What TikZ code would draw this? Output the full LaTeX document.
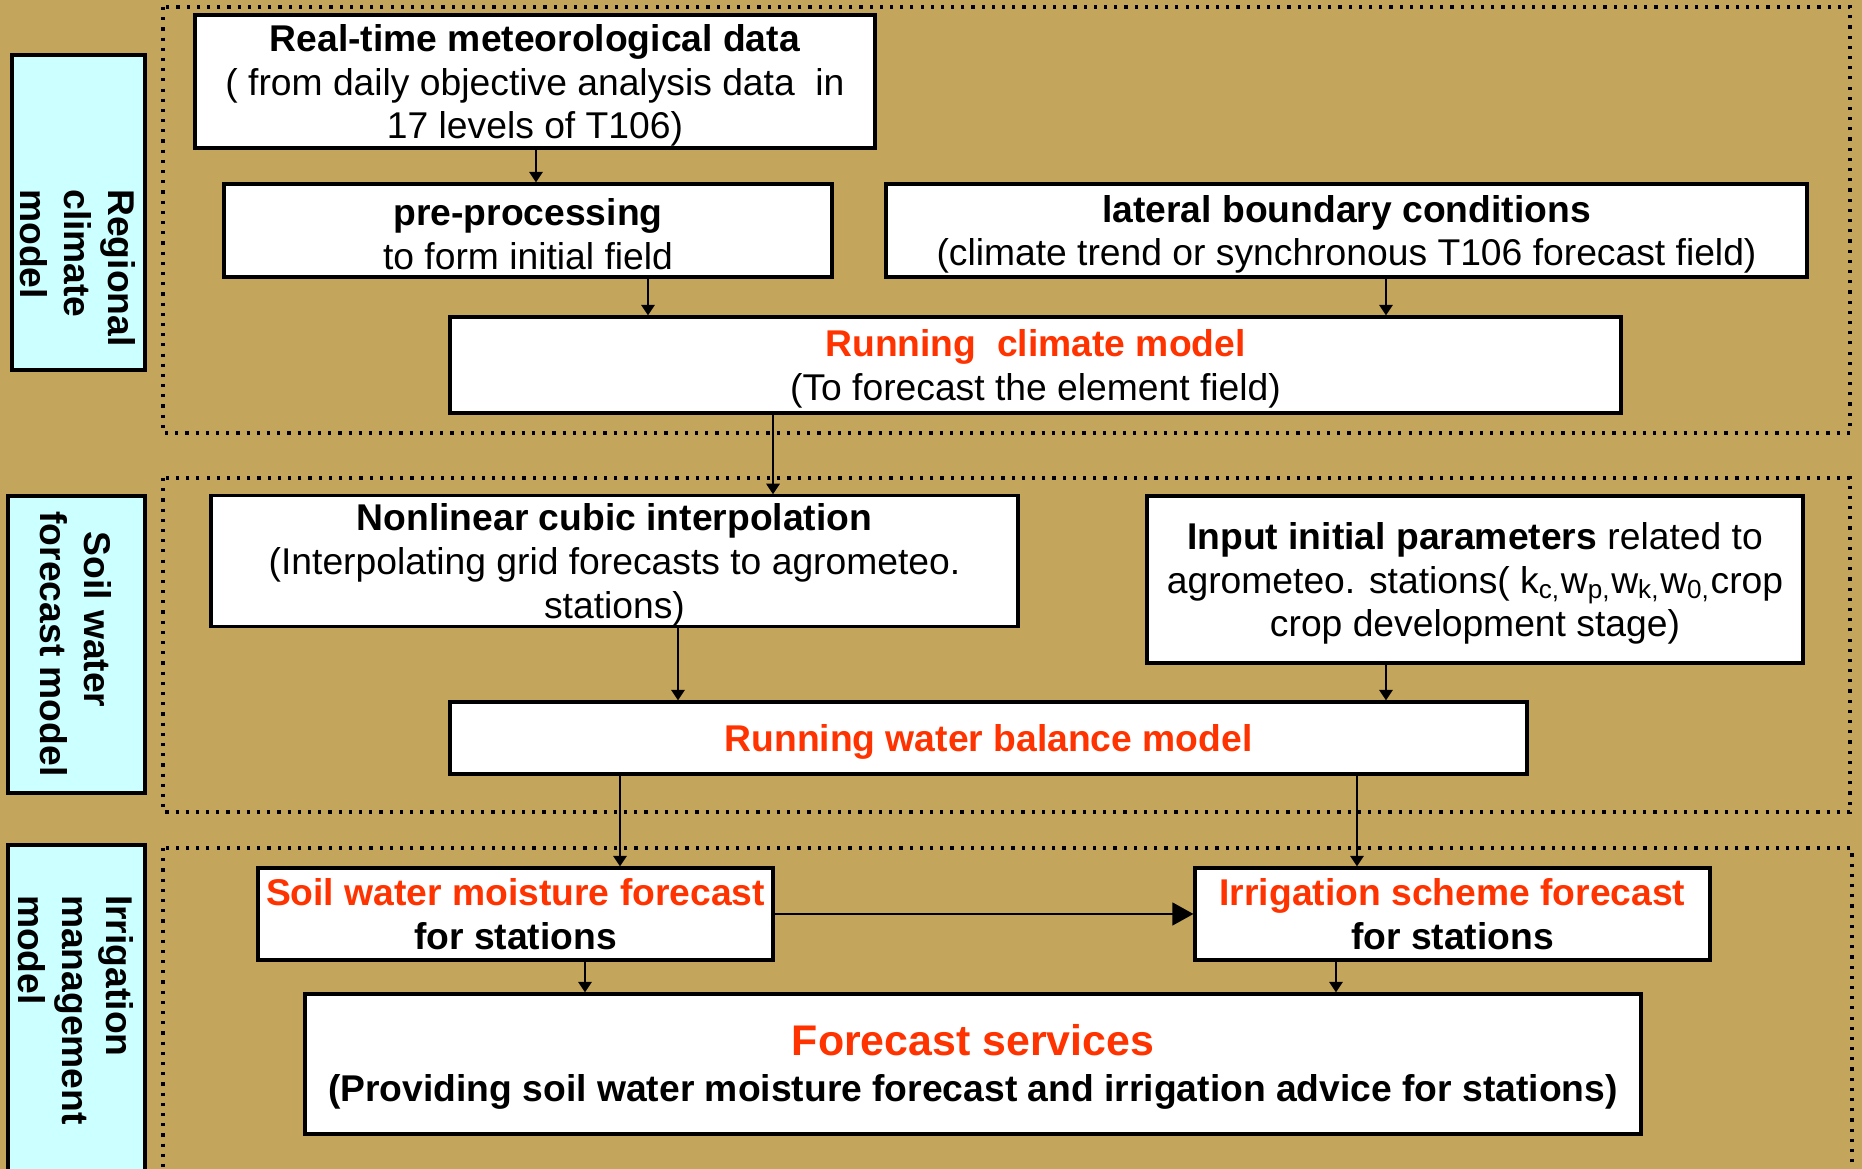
\documentclass[tikz,border=0pt]{standalone}
\usepackage{fontspec}
\setmainfont{Liberation Sans}
\usetikzlibrary{arrows.meta}
\definecolor{tanbg}{RGB}{196,165,92}
\definecolor{sidecyan}{RGB}{204,255,255}
\definecolor{hired}{RGB}{255,51,0}
\newcommand{\boxfont}{\fontsize{10.6}{12.5}\selectfont}
\newcommand{\hot}[1]{\textcolor{hired}{\textbf{#1}}}
\newcommand{\lift}[1][9.9pt]{\rule{0pt}{#1}}
\tikzset{
  box/.style={draw=black, line width=0.9pt, fill=white, align=center, inner sep=0pt, font=\boxfont},
  flow/.style={black, line width=0.6pt, -{Triangle[length=3pt,width=3.8pt]}},
  bigflow/.style={black, line width=0.6pt, -{Triangle[length=6pt,width=6.5pt]}},
  group/.style={black, line width=0.9pt, dotted},
  sidebar/.style={draw=black, line width=0.9pt, fill=sidecyan},
  sidelabel/.style={rotate=-90, align=left, inner sep=0pt, font=\boxfont\bfseries}
}

\begin{document}
\begin{tikzpicture}[x=0.1mm,y=-0.1mm]
\fill[tanbg] (0,0) rectangle (1862,1169);
\useasboundingbox (0,0) rectangle (1862,1169);

% model groups
\draw[group] (163,7) rectangle (1850,433);
\draw[group] (163,478) rectangle (1850,812);
\draw[group] (163,848) rectangle (1852,1185);

% side bars
\draw[sidebar] (12,55) rectangle (145,370);
\draw[sidebar] (8,496) rectangle (145,793);
\draw[sidebar] (8,845) rectangle (145,1185);
\node[sidelabel] (lab1) at (78,268) {Regional\\climate\\model};
\node[sidelabel] (lab2) at (76,644) {\hspace*{5.7pt}Soil water\\forecast model};
\node[sidelabel] (lab3) at (76,1010) {Irrigation\\management\\model};

% regional climate model
\node[box, minimum width=68mm, minimum height=13.3mm] (realtime) at (535,81.5)
  {\lift\textbf{Real-time meteorological data}\\( from daily objective analysis data~ in\\17 levels of T106)};
\node[box, minimum width=60.8mm, minimum height=9.3mm] (preproc) at (528,230.5)
  {\lift\textbf{pre-processing}\\to form initial field};
\node[box, minimum width=92.1mm, minimum height=9.3mm] (lateral) at (1346.5,230.5)
  {\lift\textbf{lateral boundary conditions}\\(climate trend or synchronous T106 forecast field)};
\node[box, minimum width=117.1mm, minimum height=9.6mm] (climrun) at (1035.5,365)
  {\lift\hot{Running~ climate model}\\(To forecast the element field)};

% soil water forecast model
\node[box, minimum width=80.7mm, minimum height=13mm] (interp) at (614.5,561)
  {\lift\textbf{Nonlinear cubic interpolation}\\(Interpolating grid forecasts to agrometeo.\\stations)};
\node[box, minimum width=65.6mm, minimum height=16.7mm] (params) at (1475,579.5)
  {\lift\textbf{Input initial parameters} related to\\agrometeo. stations( k\textsubscript{c,}w\textsubscript{p,}w\textsubscript{k,}w\textsubscript{0,}crop\\crop development stage)};
\node[box, minimum width=107.7mm, minimum height=7.2mm] (waterrun) at (988.5,738)
  {\lift\hot{Running water balance model}};

% irrigation management model
\node[box, minimum width=51.5mm, minimum height=9.2mm] (soilfc) at (515.5,914)
  {\hot{Soil water moisture forecast}\\\textbf{for stations}};
\node[box, minimum width=51.5mm, minimum height=9.2mm] (irrfc) at (1452.5,914)
  {\hot{Irrigation scheme forecast}\\\textbf{for stations}};
\node[box, minimum width=133.6mm, minimum height=14mm] (services) at (973,1064)
  {\lift[10.7pt]{\fontsize{12.2}{14}\selectfont\hot{Forecast services}}\\[0.65pt]\textbf{(Providing soil water moisture forecast and irrigation advice for stations)}};

% arrow columns
\coordinate (c1) at (536,0);
\coordinate (c2) at (648,0);
\coordinate (c3) at (1386,0);
\coordinate (c4) at (773,0);
\coordinate (c5) at (678,0);
\coordinate (c6) at (620,0);
\coordinate (c7) at (1357,0);
\coordinate (c8) at (585,0);
\coordinate (c9) at (1336,0);

\draw[flow] (realtime.south -| c1) -- (preproc.north -| c1);
\draw[flow] (preproc.south -| c2) -- (climrun.north -| c2);
\draw[flow] (lateral.south -| c3) -- (climrun.north -| c3);
\draw[flow] (climrun.south -| c4) -- (interp.north -| c4);
\draw[flow] (interp.south -| c5) -- (waterrun.north -| c5);
\draw[flow] (params.south -| c3) -- (waterrun.north -| c3);
\draw[flow] (waterrun.south -| c6) -- (soilfc.north -| c6);
\draw[flow] (waterrun.south -| c7) -- (irrfc.north -| c7);
\draw[bigflow] (soilfc.east) -- (irrfc.west);
\draw[flow] (soilfc.south -| c8) -- (services.north -| c8);
\draw[flow] (irrfc.south -| c9) -- (services.north -| c9);
\end{tikzpicture}
\end{document}
